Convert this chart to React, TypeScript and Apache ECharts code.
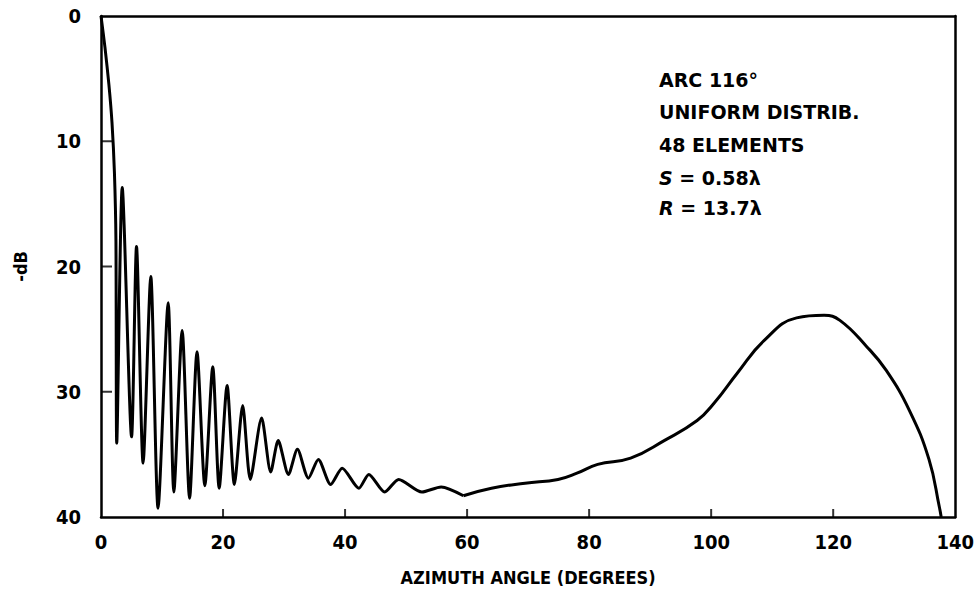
import React, { useEffect, useRef } from "react";
import * as echarts from "echarts";

// Main beam and side-lobe region: azimuth (degrees) and level (-dB)
const lobeAngle: number[] = [
  0, 0.65, 1.3, 1.8, 2.2, 2.45, 2.58,
  3.48, 5.01, 5.82, 6.9, 8.16, 9.35, 11.01, 11.94, 13.3, 14.52,
  15.74, 17.02, 18.32, 19.37, 20.67, 21.86, 23.22, 24.47, 26.32, 27.82,
  29.04, 30.72, 32.19, 33.99, 35.62, 37.64, 39.53, 42.26, 43.89, 46.5,
  48.78, 52.59, 55.75, 59.39,
];
const lobeLevel: number[] = [
  0, 2.5, 5.5, 8.5, 12.5, 18, 34.1,
  13.7, 33.6, 18.4, 35.7, 20.8, 39.3, 22.9, 38.0, 25.1, 38.5,
  26.8, 37.5, 28.0, 37.7, 29.5, 37.4, 31.1, 37.0, 32.1, 36.4,
  33.9, 36.6, 34.6, 36.9, 35.4, 37.4, 36.1, 37.7, 36.6, 38.0,
  37.0, 38.0, 37.6, 38.3,
];

// Wide-angle region with the secondary lobe near 118 degrees
const tailAngle: number[] = [
  59.39, 64.0, 69.5, 74.9, 78.0, 81.4, 86.8, 92.3, 97.7, 100.5,
  104.3, 108.7, 114.0, 118.5, 121.1, 125.5, 128.7, 132.5, 135.7, 137.4, 137.7,
];
const tailLevel: number[] = [
  38.3, 37.7, 37.3, 37.0, 36.5, 35.8, 35.3, 33.9, 32.3, 30.9,
  28.5, 25.9, 24.1, 23.9, 24.3, 26.4, 28.3, 31.5, 35.4, 39.2, 40,
];

// Interior tick positions marked on the frame
const xTickValues: number[] = [20, 40, 60, 80, 100, 120];
const yTickValues: number[] = [10, 20, 30];

// Array parameters listed in the upper-right corner
const notes: string[] = [
  "ARC 116°",
  "UNIFORM DISTRIB.",
  "48 ELEMENTS",
  "{i|S} = 0.58λ",
  "{i|R} = 13.7λ",
];

const xTitle = "AZIMUTH ANGLE (DEGREES)";
const yTitle = "-dB";

const tickFont = "'DejaVu Sans Condensed', 'DejaVu Sans', sans-serif";
const noteFont = "'DejaVu Sans', sans-serif";

export default function App() {
  const ref = useRef<HTMLDivElement>(null);

  useEffect(() => {
    if (!ref.current) return;
    const chart = echarts.init(ref.current, undefined, { renderer: "svg" });

    const lobes = lobeAngle.map((a, i) => [a, lobeLevel[i]]);
    const tail = tailAngle.map((a, i) => [a, tailLevel[i]]);
    const noteTops = [80, 112, 145, 178, 208];

    const curve = { color: "#000", width: 3 };
    const frameLine = { show: true, onZero: false, lineStyle: { color: "#000", width: 2.5 } };
    const boldText = { color: "#000", fontFamily: tickFont, fontWeight: "bold" };

    // The top and right axes only close the frame
    const frameAxis = {
      type: "value",
      axisLine: frameLine,
      axisTick: { show: false },
      axisLabel: { show: false },
      splitLine: { show: false },
    };

    // Short inward tick marks, positioned by the axes' scales
    const tickSeries = (data: number[][], size: number[], offset: number[]) => ({
      type: "scatter",
      data,
      symbol: "rect",
      symbolSize: size,
      symbolOffset: offset,
      silent: true,
      clip: false,
      z: 5,
      itemStyle: { color: "#000" },
    });

    chart.setOption({
      animation: false,
      backgroundColor: "#fff",
      grid: { left: 101, right: 18, top: 16, bottom: 75 },
      xAxis: [
        {
          type: "value",
          position: "bottom",
          min: 0,
          max: 140,
          interval: 20,
          name: xTitle,
          nameLocation: "middle",
          nameGap: 51,
          nameTextStyle: { ...boldText, fontSize: 18 },
          splitLine: { show: false },
          axisLine: frameLine,
          axisTick: { show: false },
          axisLabel: { ...boldText, fontSize: 20, margin: 15 },
        },
        { ...frameAxis, position: "top", min: 0, max: 140 },
      ],
      yAxis: [
        {
          type: "value",
          position: "left",
          inverse: true,
          min: 0,
          max: 40,
          interval: 10,
          name: yTitle,
          nameLocation: "middle",
          nameRotate: 90,
          nameGap: 72,
          nameTextStyle: { ...boldText, fontSize: 18 },
          splitLine: { show: false },
          axisLine: frameLine,
          axisTick: { show: false },
          axisLabel: { ...boldText, fontSize: 20, margin: 20, padding: [3, 0, 0, 0] },
        },
        { ...frameAxis, position: "right", inverse: true, min: 0, max: 40 },
      ],
      series: [
        {
          type: "line",
          data: lobes,
          showSymbol: false,
          smooth: 0.25,
          clip: true,
          lineStyle: curve,
        },
        {
          type: "line",
          data: tail,
          showSymbol: false,
          smooth: 0.45,
          clip: true,
          lineStyle: curve,
        },
        tickSeries(xTickValues.map((v) => [v, 40]), [2, 8], [0, -4]),
        tickSeries(yTickValues.map((v) => [0, v]), [11, 2], [5.5, 0]),
      ],
      graphic: notes.map((t, i) => ({
        type: "text",
        x: 659,
        y: noteTops[i],
        style: {
          text: t,
          fill: "#000",
          fontFamily: noteFont,
          fontWeight: "bold",
          fontSize: 19,
          verticalAlign: "middle",
          align: "left",
          rich: {
            i: {
              fontFamily: noteFont,
              fontWeight: "bold",
              fontStyle: "italic",
              fontSize: 19,
              fill: "#000",
            },
          },
        },
      })),
    });

    return () => chart.dispose();
  }, []);

  return (
    <div
      ref={ref}
      style={{
        position: "fixed",
        left: 0,
        top: 0,
        width: 977,
        height: 592,
        background: "#fff",
      }}
    />
  );
}
